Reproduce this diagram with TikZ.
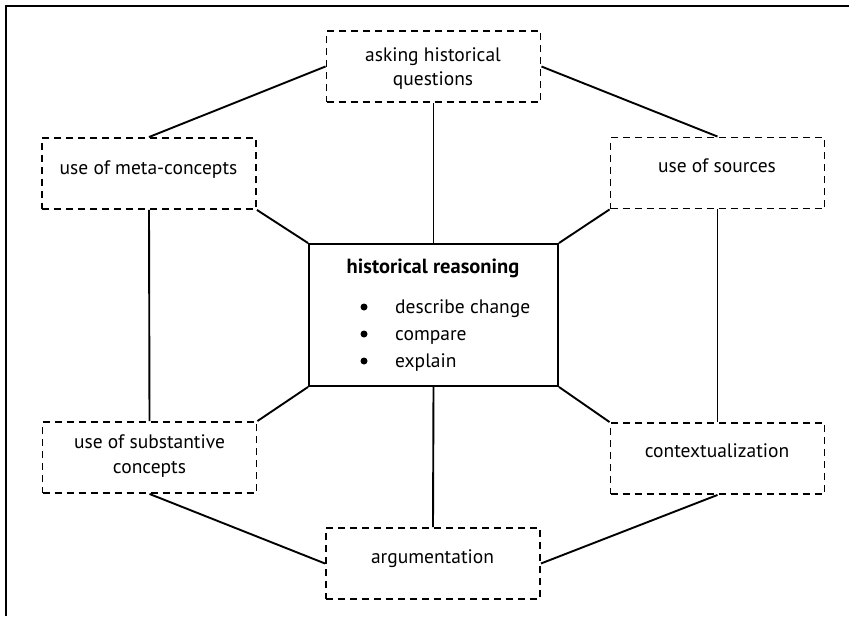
\documentclass[tikz,border=0pt]{standalone}
\usepackage{fontspec}
\setmainfont{PT Sans}
\begin{document}
\begin{tikzpicture}[x=1pt,y=-1pt,
  dbox/.style={draw, line width=1.9pt, dash pattern=on 7pt off 5pt,
    minimum width=214pt, minimum height=71pt, inner sep=0pt},
  core/.style={draw, line width=1.9pt, minimum width=249pt,
    minimum height=142pt, inner sep=0pt},
  txt/.style={font=\fontsize{19.5}{24}\selectfont, inner sep=0pt, anchor=base},
  bul/.style={circle, fill, inner sep=0pt, minimum size=7pt},
  link/.style={line width=1.9pt},
  thinlink/.style={line width=1pt},
]
\useasboundingbox (0,0) rectangle (849,616);
% frame
\draw[line width=2pt] (5.5,616) |- (849,5.5);

% boxes
\node[dbox] (ask)   at (433.5,66.5) {};
\node[dbox] (meta)  at (149,173.5) {};
\node[dbox] (src)   at (717.5,173) {};
\node[dbox] (subst) at (149.5,457.5) {};
\node[dbox] (ctx)   at (717.5,458.5) {};
\node[dbox] (arg)   at (433,563.5) {};
\node[core] (core)  at (433.5,315) {};

% box texts, one node per line
\node[txt] (ask-t1)   at (433,61)    {asking historical};
\node[txt] (ask-t2)   at (433,85)    {questions};
\node[txt] (meta-t)   at (148.5,174) {use of meta-concepts};
\node[txt] (src-t)    at (717,172)   {use of sources};
\node[txt] (subst-t1) at (149.5,448) {use of substantive};
\node[txt] (subst-t2) at (149.5,473) {concepts};
\node[txt] (ctx-t)    at (717,457)   {contextualization};
\node[txt] (arg-t)    at (432.5,563) {argumentation};

% centre contents
\node[txt, font=\fontsize{20.5}{24}\selectfont\bfseries] (core-t) at (433,273) {historical reasoning};
\foreach \y/\w [count=\i] in {313/describe change,340/compare,367/explain}{
  \node[bul] (bul\i) at (364,\y-6) {};
  \node[txt, anchor=base west] (item\i) at (395,\y) {\w};
}

% connectors
\draw[link] (ask.west) -- (meta.north);
\draw[link] (ask.east) -- (src.north);
\draw[link] (ask.south) -- (core.north);
\draw[link] (meta.south) -- (subst.north);
\draw[link] (meta.south east) -- (core.north west);
\draw[link] (src.south west) -- (core.north east);
\draw[thinlink] (src.south) -- (ctx.north);
\draw[link] (core.south west) -- (subst.north east);
\draw[link] (core.south east) -- (ctx.north west);
\draw[link] (core.south) -- (arg.north);
\draw[link] (subst.south) -- (arg.west);
\draw[link] (ctx.south) -- (arg.east);
\end{tikzpicture}
\end{document}
